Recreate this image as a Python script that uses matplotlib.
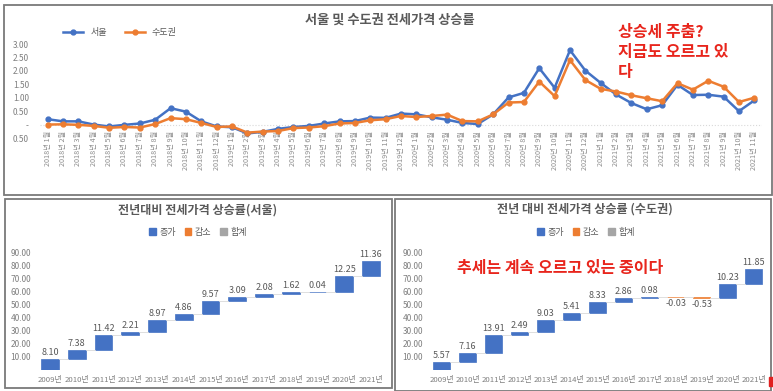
import matplotlib
matplotlib.use("Agg")
import numpy as np
import matplotlib.pyplot as plt
from matplotlib.patches import Rectangle, Patch
from matplotlib.ticker import FuncFormatter

plt.rcParams['font.family'] = ['Noto Sans CJK KR', 'DejaVu Sans']

# === Data ===
years_m = [2018] * 12 + [2019] * 12 + [2020] * 12 + [2021] * 11
months_m = list(range(1, 13)) * 3 + list(range(1, 12))
month_labels = [f"{y}년 {m}월" for y, m in zip(years_m, months_m)]

seoul = [0.20, 0.12, 0.12, 0.00, -0.07, -0.01, 0.04, 0.18, 0.61, 0.48, 0.12, -0.07,
         -0.10, -0.33, -0.27, -0.16, -0.09, -0.05, 0.04, 0.12, 0.13, 0.26, 0.25, 0.41,
         0.38, 0.27, 0.18, 0.06, 0.02, 0.38, 1.01, 1.18, 2.10, 1.37, 2.77, 2.01,
         1.55, 1.12, 0.80, 0.57, 0.72, 1.48, 1.10, 1.11, 1.04, 0.50, 0.90]
capital = [0.00, 0.01, -0.01, -0.05, -0.12, -0.09, -0.11, 0.02, 0.24, 0.20, 0.06, -0.09,
           -0.07, -0.30, -0.26, -0.24, -0.13, -0.11, -0.06, 0.04, 0.06, 0.16, 0.20, 0.32,
           0.28, 0.32, 0.37, 0.13, 0.12, 0.38, 0.82, 0.84, 1.60, 1.06, 2.40, 1.66,
           1.33, 1.23, 1.09, 0.98, 0.87, 1.54, 1.30, 1.63, 1.41, 0.84, 1.00]

years = [f"{y}년" for y in range(2009, 2022)]
seoul_yoy = [8.10, 7.38, 11.42, 2.21, 8.97, 4.86, 9.57, 3.09, 2.08, 1.62, 0.04, 12.25, 11.36]
capital_yoy = [5.57, 7.16, 13.91, 2.49, 9.03, 5.41, 8.33, 2.86, 0.98, -0.03, -0.53, 10.23, 11.85]

BLUE = "#4472C4"
ORANGE = "#ED7D31"
GRAY = "#A5A5A5"
TXT = "#595959"
LBL = "#7f7f7f"
RED = "#E8251C"

W, H = 773, 391
fig = plt.figure(figsize=(W / 100, H / 100), dpi=100)


def rect(x0, y0, x1, y1):
    return [x0 / W, 1 - y1 / H, (x1 - x0) / W, (y1 - y0) / H]


# === Panel frames ===
for x0, y0, x1, y1 in [(4, 5, 772, 195), (5, 199, 392, 388), (395, 199, 771, 391)]:
    fig.patches.append(Rectangle((x0 / W, 1 - y1 / H), (x1 - x0) / W, (y1 - y0) / H,
                                 transform=fig.transFigure, fill=False,
                                 edgecolor="#7a7a7a", lw=1.3))

# === Top: monthly line chart ===
ax = fig.add_axes(rect(40, 44, 762, 138))
x = np.arange(len(month_labels))
ax.axhline(0, color="#d9d9d9", lw=0.8, ls=":")
ax.plot(x, seoul, color=BLUE, lw=1.8, marker="o", ms=3.5, label="서울")
ax.plot(x, capital, color=ORANGE, lw=1.8, marker="o", ms=3.5, label="수도권")
ax.set_xlim(-0.5, len(x) - 0.5)
ax.set_ylim(-0.5, 3.0)
ax.set_yticks(np.arange(-0.5, 3.01, 0.5))
ax.yaxis.set_major_formatter(FuncFormatter(lambda v, _: "-" if abs(v) < 1e-9 else f"{abs(v):.2f}"))
ax.set_xticks(x, month_labels)
ax.tick_params(axis="y", length=0, pad=8, labelsize=6, labelcolor=LBL)
ax.tick_params(axis="x", length=0, pad=-5, labelsize=5.2, labelcolor="#8c8c8c", labelrotation=90)
for s in ax.spines.values():
    s.set_visible(False)
ax.legend(loc="center left", bbox_to_anchor=(55 / W, 1 - 33 / H), bbox_transform=fig.transFigure,
          ncol=2, frameon=False, fontsize=6.5, handlelength=2.2, columnspacing=2,
          labelcolor=TXT)
fig.text(390 / W, 1 - 20 / H, "서울 및 수도권 전세가격 상승률", ha="center", va="center",
         fontsize=9.5, fontweight="bold", color=TXT)
fig.text(618 / W, 1 - 24 / H, "상승세 주춤?\n지금도 오르고 있\n다", ha="left", va="top",
         fontsize=11.5, fontweight="bold", color=RED, linespacing=1.3)


# === Bottom: waterfalls ===
def waterfall(ax, chg, width):
    chg = np.array(chg)
    end = np.cumsum(chg)
    start = end - chg
    xs = np.arange(len(chg))
    colors = [BLUE if c >= 0 else ORANGE for c in chg]
    ax.bar(xs, chg, bottom=start, width=width, color=colors, edgecolor=colors, lw=0.5)
    for i in range(len(chg) - 1):
        ax.plot([i + width / 2, i + 1 - width / 2], [end[i], end[i]], color="#d9d9d9", lw=0.6)
    for i, c in enumerate(chg):
        if c >= 0:
            ax.annotate(f"{c:.2f}", (i, end[i]), xytext=(0, 1.5), textcoords="offset points",
                        ha="center", va="bottom", fontsize=6.5, color=TXT)
        else:
            ax.annotate(f"{c:.2f}", (i, end[i]), xytext=(0, -1.5), textcoords="offset points",
                        ha="center", va="top", fontsize=6.5, color=TXT)
    ax.set_xlim(-0.5, len(chg) - 0.5)
    ax.set_ylim(0, 90)
    ax.set_yticks(range(10, 91, 10))
    ax.yaxis.set_major_formatter(FuncFormatter(lambda v, _: f"{v:.2f}"))
    ax.set_xticks(xs, years)
    ax.tick_params(axis="y", length=0, pad=4, labelsize=6, labelcolor=LBL)
    ax.tick_params(axis="x", length=0, pad=4.5, labelsize=5.6, labelcolor=LBL)
    for s in ax.spines.values():
        s.set_visible(False)


ax_l = fig.add_axes(rect(36.6, 252, 384.4, 370))
waterfall(ax_l, seoul_yoy, 0.66)
ax_r = fig.add_axes(rect(428.7, 252.3, 766.7, 369.7))
waterfall(ax_r, capital_yoy, 0.64)

wf_handles = [Patch(color=BLUE, label="증가"), Patch(color=ORANGE, label="감소"),
              Patch(color=GRAY, label="합계")]
for cx in (198, 586):
    fig.legend(handles=wf_handles, loc="center", bbox_to_anchor=(cx / W, 1 - 232 / H), ncol=3,
               frameon=False, fontsize=6.5, handlelength=0.7, handleheight=0.7,
               handletextpad=0.4, columnspacing=1.0, labelcolor=TXT)

fig.text(198 / W, 1 - 210 / H, "전년대비 전세가격 상승률(서울)", ha="center", va="center",
         fontsize=8.7, fontweight="bold", color=TXT)
fig.text(585 / W, 1 - 209 / H, "전년 대비 전세가격 상승률 (수도권)", ha="center", va="center",
         fontsize=8.7, fontweight="bold", color=TXT)
fig.text(560 / W, 1 - 268 / H, "추세는 계속 오르고 있는 중이다", ha="center", va="center",
         fontsize=11.5, fontweight="bold", color=RED)

# small red marker at the bottom-right edge
fig.patches.append(Rectangle((769 / W, 1 - 386 / H), 4 / W, 9 / H, transform=fig.transFigure,
                             color="#e02020"))

fig.savefig("out.png", dpi=100)
